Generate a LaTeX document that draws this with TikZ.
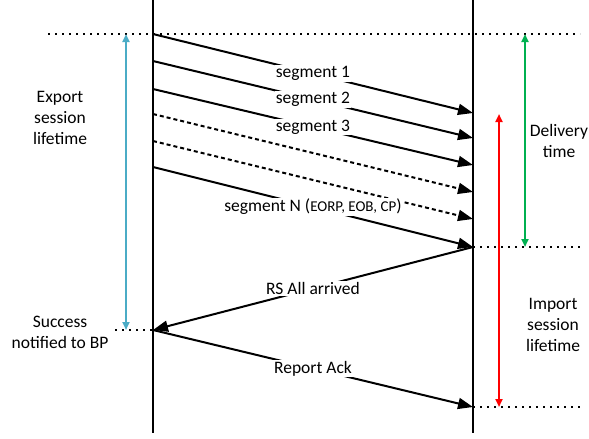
\documentclass[tikz,border=0pt]{standalone}
\usepackage{fontspec}
\setmainfont{Carlito}
\usetikzlibrary{arrows.meta}

\definecolor{exportblue}{RGB}{75,172,198}
\definecolor{deliverygreen}{RGB}{0,176,80}

\begin{document}
\begin{tikzpicture}[x=1pt, y=-1pt, font=\fontsize{17.5}{21}\selectfont,
                lifeline/.style={line width=2pt},
                msg/.style={line width=2pt, -{Triangle[length=15pt,width=11pt]}},
                lostmsg/.style={msg, dash pattern=on 4pt off 3pt},
                guide/.style={line width=1.6pt, dash pattern=on 1.6pt off 5.4pt},
                span/.style={line width=2pt, {Triangle[length=8pt,width=7pt]}-{Triangle[length=8pt,width=7pt]}},
                msglabel/.style={fill=white, inner sep=1pt, midway},
                note/.style={align=center}]

                \useasboundingbox (0,0) rectangle (589,439);

                % lifelines
                \coordinate (L0) at (153,0);
                \coordinate (L1) at (153,433);
                \coordinate (R0) at (473,0);
                \coordinate (R1) at (473,433);
                \draw[lifeline] (L0) -- (L1);
                \draw[lifeline] (R0) -- (R1);

                % time marks
                \coordinate (top0) at (48,34);
                \coordinate (top1) at (580,34);
                \coordinate (dlv0) at (473,247);
                \coordinate (dlv1) at (580,247);
                \coordinate (imp0) at (473,407);
                \coordinate (imp1) at (580,407);
                \coordinate (ok0) at (115,330);
                \coordinate (ok1) at (153,330);
                \draw[guide] (top0) -- (top1);
                \draw[guide] (dlv0) -- (dlv1);
                \draw[guide] (imp0) -- (imp1);
                \draw[guide] (ok0) -- (ok1);

                % segments
                \coordinate (s1a) at (153,34);  \coordinate (s1b) at (473,113);
                \coordinate (s2a) at (153,61);  \coordinate (s2b) at (473,138);
                \coordinate (s3a) at (153,89);  \coordinate (s3b) at (473,165);
                \coordinate (s4a) at (153,114); \coordinate (s4b) at (473,192);
                \coordinate (s5a) at (153,141); \coordinate (s5b) at (473,219);
                \coordinate (sNa) at (153,167); \coordinate (sNb) at (473,247);
                \coordinate (rs) at (153,330);
                \coordinate (ack) at (473,407);

                \path[lostmsg]
                    (s4a) edge (s4b) % lost
                    (s5a) edge (s5b); % lost
                \path[msg]
                    (s1a) edge node[msglabel] {segment 1} (s1b)
                    (s2a) edge node[msglabel] {segment 2} (s2b)
                    (s3a) edge node[msglabel] {segment 3} (s3b)
                    (sNa) edge node[msglabel] {segment N ({\fontsize{15}{18}\selectfont EORP, EOB, CP})} (sNb)
                    (sNb) edge node[msglabel] {RS All arrived} (rs)
                    (rs) edge node[msglabel] {Report Ack} (ack);

                % lifetimes
                \coordinate (exp0) at (126,34);  \coordinate (exp1) at (126,330);
                \coordinate (del0) at (525,34);  \coordinate (del1) at (525,247);
                \coordinate (ims0) at (499,114); \coordinate (ims1) at (499,407);
                \draw[span, exportblue] (exp0) -- (exp1);
                \draw[span, deliverygreen] (del0) -- (del1);
                \draw[span, red] (ims0) -- (ims1);

                \node[note] (export) at (60,118) {Export\\session\\lifetime};
                \node[note] (success) at (60,332) {Success\\notified to BP};
                \node[note] (delivery) at (559,141) {Delivery\\time};
                \node[note] (import) at (553,325) {Import\\session\\lifetime};

\end{tikzpicture}
\end{document}
